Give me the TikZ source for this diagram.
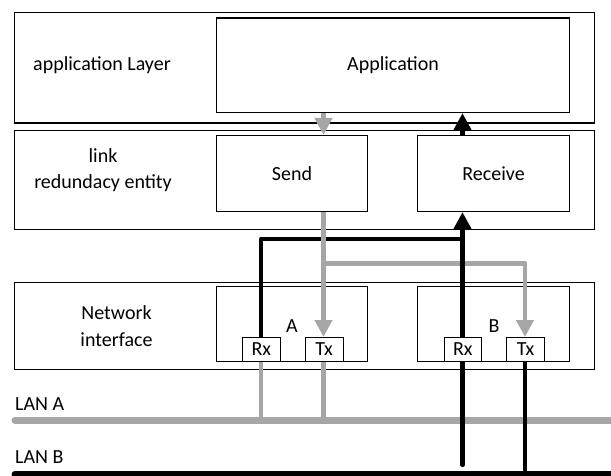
\documentclass[tikz,border=0pt]{standalone}
\usepackage{fontspec}
\setmainfont{Carlito}
\usetikzlibrary{arrows.meta}
\definecolor{lanGray}{HTML}{A6A6A6}
\tikzset{
  box/.style={draw=black, line width=1.1pt, rectangle, inner sep=0pt, anchor=north west},
  port/.style={box, fill=white, minimum width=38pt, minimum height=24pt, anchor=north west},
  label/.style={inner sep=0pt, align=center},
  blackwire/.style={draw=black, line width=4.5pt, line join=round},
  graywire/.style={draw=lanGray, line width=4.5pt, line join=round},
  lan/.style={line width=7pt, line cap=round},
  tip/.style={-{Triangle[length=17pt,width=17pt]}}
}
\begin{document}
\begin{tikzpicture}[x=1pt, y=-1pt, font=\fontsize{20}{26.5}\selectfont]
\useasboundingbox (0,0) rectangle (611,476);

% layer frames
\node[box, minimum width=580pt, minimum height=110.5pt] (applayer) at (14,12) {};
\node[box, minimum width=580pt, minimum height=99pt] (linklayer) at (14,130) {};
\node[box, minimum width=580pt, minimum height=87pt] (netlayer) at (14,282) {};

% functional blocks
\node[box, minimum width=353pt, minimum height=94.5pt] (app) at (216,17.5) {};
\node[box, minimum width=151pt, minimum height=76pt] (send) at (216,135) {};
\node[box, minimum width=152pt, minimum height=76pt] (receive) at (417,135) {};
\node[box, minimum width=151pt, minimum height=75pt] (nia) at (216,286) {};
\node[box, minimum width=152pt, minimum height=75pt] (nib) at (417,286) {};

% texts
\node[label] (appLayerTxt) at (102,65) {application Layer};
\node[label] (appTxt) at (app.center) {Application};
\node[label] (linkTxt) at (103,170) {link\\redundacy entity};
\node[label] (sendTxt) at (send.center) {Send};
\node[label] (recvTxt) at (receive.center) {Receive};
\node[label] (netTxt) at (116.5,326) {Network\\interface};
\node[label] (aTxt) at (292,326) {A};
\node[label] (bTxt) at (494,326) {B};
\node[label, anchor=base west] (lanATxt) at (15,410) {LAN A};
\node[label, anchor=base west] (lanBTxt) at (15,463) {LAN B};

% helper coordinates for the port positions and bus levels
\coordinate (rxa) at (261,337);
\coordinate (txa) at (323.5,337);
\coordinate (rxb) at (462.5,337);
\coordinate (txb) at (525,337);
\coordinate (rjoin) at (462.5,239);
\coordinate (tjoin) at (323.5,263.3);
\coordinate (lanAl) at (15,420);
\coordinate (lanAr) at (620,420);
\coordinate (lanBl) at (15,474);
\coordinate (lanBr) at (620,474);
\coordinate (rxbend) at (462.5,464.8);

% application <-> link entity
\draw[graywire, tip] (app.south -| txa) -- (send.north -| txa);
\draw[blackwire, tip] (receive.north -| rxb) -- (app.south -| rxb);

% receive path from interface A
\draw[blackwire] (rxa) |- (rjoin);

% send paths to both interfaces
\draw[graywire, tip] (send.south -| txa) -- (txa);
\draw[graywire, tip] (tjoin) -| (txb);

% LAN A and its taps
\draw[lan, draw=lanGray] (lanAl) -- (lanAr);
\draw[graywire] (rxa |- nia.south) -- (rxa |- lanAl);
\draw[graywire] (txa |- nia.south) -- (txa |- lanAl);

% receive path from interface B
\draw[blackwire, line cap=round, tip] (rxbend) -- (receive.south -| rxb);

% LAN B and its tap
\draw[lan, draw=black] (lanBl) -- (lanBr);
\draw[blackwire] (txb |- nib.south) -- (txb |- lanBl);

% Rx / Tx ports
\node[port, minimum width=37.5pt] (rxaPort) at (242,337) {Rx};
\node[port] (txaPort) at (304.5,337) {Tx};
\node[port, minimum width=37.5pt] (rxbPort) at (443.5,337) {Rx};
\node[port] (txbPort) at (506,337) {Tx};
\end{tikzpicture}
\end{document}
